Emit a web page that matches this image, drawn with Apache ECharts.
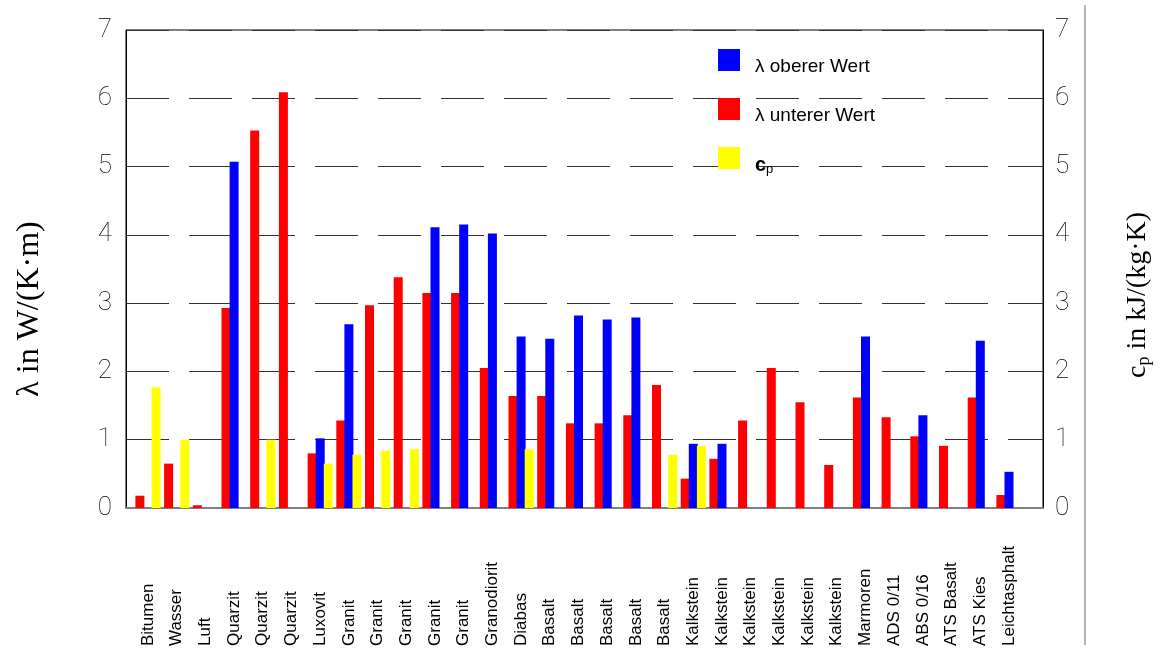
<!DOCTYPE html>
<html>
<head>
<meta charset="utf-8">
<script src="https://cdn.jsdelivr.net/npm/echarts@6/dist/echarts.min.js"></script>
<style>
html, body { margin: 0; padding: 0; background: #fff; }
#chart { width: 1165px; height: 651px; }
</style>
</head>
<body>
<div id="chart"></div>
<script>
'use strict';
// Materialien entlang der x-Achse
var materials = ['Bitumen', 'Wasser', 'Luft', 'Quarzit', 'Quarzit', 'Quarzit', 'Luxovit',
    'Granit', 'Granit', 'Granit', 'Granit', 'Granit', 'Granodiorit', 'Diabas',
    'Basalt', 'Basalt', 'Basalt', 'Basalt', 'Basalt',
    'Kalkstein', 'Kalkstein', 'Kalkstein', 'Kalkstein', 'Kalkstein', 'Kalkstein',
    'Marmoren', 'ADS 0/11', 'ABS 0/16', 'ATS Basalt', 'ATS Kies', 'Leichtasphalt'];
// lambda unterer Wert, W/(K.m)
var lambdaLower = [0.18, 0.65, 0.04, 2.93, 5.53, 6.09, 0.80,
    1.28, 2.97, 3.38, 3.15, 3.15, 2.05, 1.64,
    1.64, 1.24, 1.24, 1.36, 1.80,
    0.43, 0.72, 1.28, 2.05, 1.55, 0.63,
    1.62, 1.33, 1.05, 0.91, 1.62, 0.19];
// lambda oberer Wert, W/(K.m)
var lambdaUpper = [null, null, null, 5.07, null, null, 1.02,
    2.69, null, null, 4.11, 4.15, 4.02, 2.51,
    2.48, 2.82, 2.76, 2.79, null,
    0.94, 0.94, null, null, null, null,
    2.51, null, 1.36, null, 2.45, 0.53];
// cp, kJ/(kg.K)
var heatCapacity = [1.77, 1.00, null, null, 1.00, null, 0.65,
    0.78, 0.84, 0.86, null, null, null, 0.86,
    null, null, null, null, 0.78,
    0.91, null, null, null, null, null,
    null, null, null, null, null, null];
// Achsenbereich
var axisMin = 0;
var axisMax = 7;
var axisStep = 1;

var tickFont = {
    fontFamily: 'Roboto',
    fontWeight: 100,
    fontSize: 26,
    color: '#000'
};

var chart = echarts.init(document.getElementById('chart'));
var option = {
    animation: false,
    backgroundColor: '#fff',
    grid: [
        {left: 126, right: 122, top: 30, bottom: 143, show: true, borderColor: '#000', borderWidth: 1, outerBoundsMode: 'none'},
        {left: 133.65, right: 141.65, top: 30, bottom: 143, outerBoundsMode: 'none'}
    ],
    legend: {
        data: ['λ oberer Wert', 'λ unterer Wert', 'cp'],
        orient: 'vertical',
        left: 718,
        top: 49,
        padding: 0,
        itemWidth: 22,
        itemHeight: 22,
        itemGap: 21.5,
        icon: 'rect',
        selectedMode: false,
        formatter: function (name) {
            if (name === 'cp') {
                return '{c|c}{p|p}';
            }
            return name;
        },
        textStyle: {
            fontFamily: 'Liberation Sans',
            fontSize: 19,
            color: '#000',
            padding: [14, 0, 0, 10],
            rich: {
                c: {fontFamily: 'Liberation Sans', fontSize: 20, fontWeight: 'bold', color: '#000'},
                p: {fontFamily: 'Liberation Sans', fontSize: 13, color: '#000', padding: [8, 0, 0, 0]}
            }
        }
    },
    xAxis: [
        {
            gridIndex: 0,
            type: 'category',
            data: [''],
            axisLine: {show: true, lineStyle: {color: '#808080', width: 2}},
            axisTick: {show: false},
            axisLabel: {show: false}
        },
        {
            gridIndex: 1,
            type: 'category',
            data: materials,
            axisLine: {show: false},
            axisTick: {show: false},
            axisLabel: {
                interval: 0,
                rotate: 90,
                align: 'left',
                verticalAlign: 'middle',
                margin: 138,
                fontFamily: 'Liberation Sans',
                fontSize: 17,
                color: '#000'
            }
        }
    ],
    yAxis: [
        {
            gridIndex: 0,
            type: 'value',
            position: 'left',
            min: axisMin,
            max: axisMax,
            interval: axisStep,
            name: 'λ in W/(K·m)',
            nameLocation: 'middle',
            nameRotate: 90,
            nameGap: 80,
            nameTextStyle: {
                fontFamily: 'Liberation Serif',
                fontSize: 32,
                color: '#000',
                padding: [0, 80, 0, 0]
            },
            axisLine: {show: true, lineStyle: {color: '#000'}},
            axisTick: {show: false},
            axisLabel: Object.assign({margin: 14, padding: [0, 0, 20, 0]}, tickFont),
            splitLine: {show: true, lineStyle: {color: '#333', width: 1, type: [43, 20]}}
        },
        {
            gridIndex: 0,
            type: 'value',
            position: 'right',
            min: axisMin,
            max: axisMax,
            interval: axisStep,
            name: '{t|c}{s|p}{t| in kJ/(kg·K)}',
            nameLocation: 'middle',
            nameRotate: 90,
            nameGap: 80,
            nameTextStyle: {
                padding: [0, 52, 0, 0],
                rich: {
                    t: {fontFamily: 'Liberation Serif', fontSize: 28, color: '#000'},
                    s: {fontFamily: 'Liberation Serif', fontSize: 18, color: '#000', padding: [12, 0, 0, 0]}
                }
            },
            axisLine: {show: true, lineStyle: {color: '#000'}},
            axisTick: {show: false},
            axisLabel: Object.assign({margin: 12, padding: [0, 0, 20, 0]}, tickFont),
            splitLine: {show: false}
        },
        {gridIndex: 1, type: 'value', min: axisMin, max: axisMax, show: false},
        {gridIndex: 1, type: 'value', min: axisMin, max: axisMax, show: false}
    ],
    series: [
        {
            name: 'λ unterer Wert',
            type: 'bar',
            xAxisIndex: 1,
            yAxisIndex: 2,
            barWidth: 9,
            barGap: '-10%',
            itemStyle: {color: '#ff0000'},
            data: lambdaLower
        },
        {
            name: 'λ oberer Wert',
            type: 'bar',
            xAxisIndex: 1,
            yAxisIndex: 2,
            barWidth: 9,
            barGap: '-10%',
            itemStyle: {color: '#0000ff'},
            data: lambdaUpper
        },
        {
            name: 'cp',
            type: 'bar',
            xAxisIndex: 1,
            yAxisIndex: 3,
            barWidth: 9,
            barGap: '-10%',
            itemStyle: {color: '#ffff00'},
            data: heatCapacity
        }
    ],
    graphic: [
        {
            type: 'line',
            shape: {x1: 1085, y1: 5, x2: 1085, y2: 645},
            style: {stroke: '#666', lineWidth: 1}
        }
    ]
};
chart.setOption(option);
</script>
</body>
</html>
